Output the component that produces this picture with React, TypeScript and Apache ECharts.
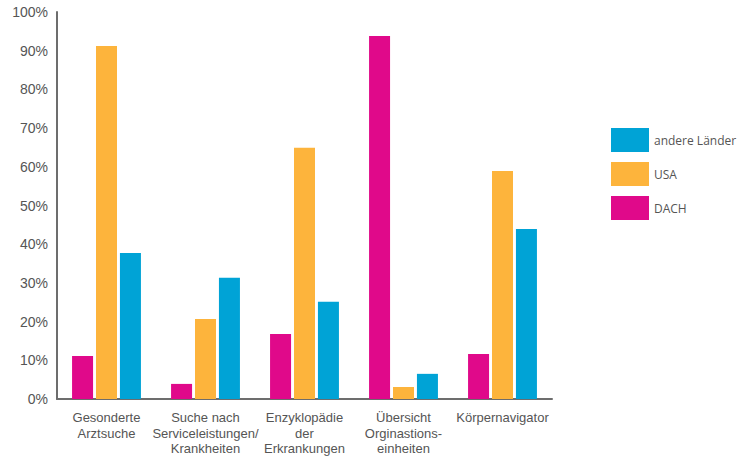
import React, { useEffect, useRef } from "react";
import * as echarts from "echarts";

const categories = [
  "Gesonderte\nArztsuche",
  "Suche nach\nServiceleistungen/\nKrankheiten",
  "Enzyklopädie\nder\nErkrankungen",
  "Übersicht\nOrginastions-\neinheiten",
  "Körpernavigator",
];
const dach = [11.1, 3.9, 16.8, 93.8, 11.6];
const usa = [91.2, 20.7, 64.9, 3.1, 58.9];
const andere = [37.7, 31.3, 25.1, 6.5, 43.9];
const yTicks = [0, 10, 20, 30, 40, 50, 60, 70, 80, 90, 100];

export default function App() {
  const ref = useRef<HTMLDivElement>(null);
  useEffect(() => {
    if (!ref.current) return;
    const chart = echarts.init(ref.current, undefined, { renderer: "svg" });
    const axisFont = { fontFamily: "Liberation Sans", color: "#555" };
    chart.setOption({
      animation: false,
      grid: { left: 57, right: 187, top: 12, bottom: 63, containLabel: false },
      legend: {
        data: ["andere Länder", "USA", "DACH"],
        orient: "vertical",
        left: 611,
        top: 128,
        padding: 0,
        itemWidth: 38,
        itemHeight: 24,
        itemGap: 10,
        icon: "rect",
        textStyle: { fontFamily: "Open Sans", fontSize: 12, color: "#555", padding: [0, 0, 0, 0] },
      },
      xAxis: {
        type: "category",
        data: categories,
        axisLine: { lineStyle: { color: "#6d6d6d", width: 2 } },
        axisTick: { show: false },
        axisLabel: { ...axisFont, fontSize: 13, lineHeight: 15.5, margin: 11, interval: 0 },
      },
      yAxis: {
        type: "value",
        min: 0,
        max: 100,
        interval: 10,
        axisLine: { show: true, lineStyle: { color: "#6d6d6d", width: 2 } },
        axisTick: { show: false },
        splitLine: { show: false },
        axisLabel: {
          ...axisFont,
          fontSize: 14,
          margin: 9,
          formatter: (v: number) => (yTicks.includes(v) ? v + "%" : ""),
        },
      },
      series: [
        { name: "DACH", type: "bar", data: dach, barWidth: 21, barGap: "14%", itemStyle: { color: "#E0098A" } },
        { name: "USA", type: "bar", data: usa, barWidth: 21, barGap: "14%", itemStyle: { color: "#FDB43C" } },
        { name: "andere Länder", type: "bar", data: andere, barWidth: 21, barGap: "14%", itemStyle: { color: "#00A3D6" } },
      ],
    });
    return () => chart.dispose();
  }, []);
  return <div ref={ref} style={{ width: 739, height: 462, position: "absolute", left: 0, top: 0 }} />;
}
